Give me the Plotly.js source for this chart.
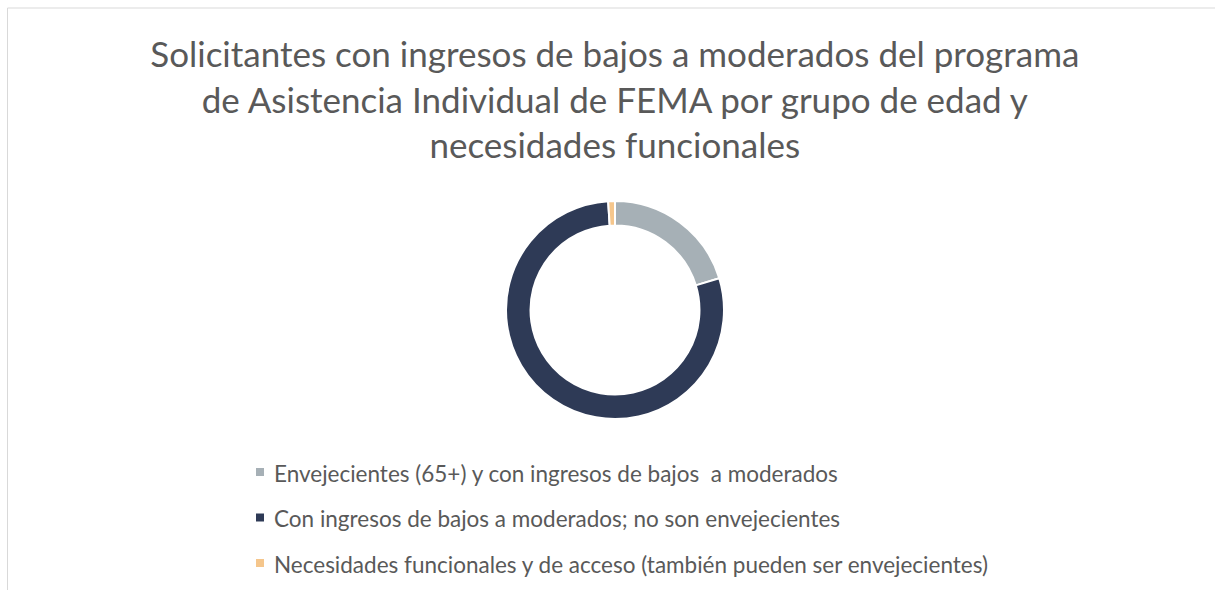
<!DOCTYPE html>
<html>
<head>
<meta charset="utf-8">
<script src="https://cdn.plot.ly/plotly-3.0.1.min.js"></script>
<style>
  html, body { margin: 0; padding: 0; background: #ffffff; }
  #chart { width: 1215px; height: 590px; }
</style>
</head>
<body>
<div id="chart"></div>
<script>
// ---- Data ----
const labels = [
  "Envejecientes (65+) y con ingresos de bajos\u00a0\u00a0a moderados",
  "Con ingresos de bajos a moderados; no son envejecientes",
  "Necesidades funcionales y de acceso (también pueden ser envejecientes)"
];
const values = [20.3, 78.7, 1.0];
const colors = ["#a6b0b6", "#2e3a56", "#f5c68c"];
const titleText = "Solicitantes con ingresos de bajos a moderados del programa<br>de Asistencia Individual de FEMA por grupo de edad y<br>necesidades funcionales";

// ---- Layout helpers (pixel -> paper) ----
const W = 1215, H = 590;
const px = x => x / W;
const py = y => 1 - y / H;

const FONT = "Lato, 'Open Sans', sans-serif";
const TEXT_COLOR = "#595959";

const trace = {
  type: "pie",
  labels: labels,
  values: values,
  hole: 0.775,
  sort: false,
  direction: "clockwise",
  rotation: 0,
  textinfo: "none",
  hoverinfo: "label+percent",
  marker: { colors: colors, line: { color: "#ffffff", width: 2 } },
  domain: { x: [px(506), px(724)], y: [py(419.5), py(200.5)] },
  showlegend: false
};

// Manual legend (Plotly legend cannot reproduce the wide row spacing)
const legendTop = 472, legendStep = 45.5, sq = 8, sqX = 256, textX = 272;
const shapes = [
  // chart frame (left and top edges visible)
  { type: "line", xref: "paper", yref: "paper", x0: px(7.5), x1: px(7.5), y0: py(8), y1: 0,
    line: { color: "#d9d9d9", width: 1 } },
  { type: "line", xref: "paper", yref: "paper", x0: px(7.5), x1: 1, y0: py(8), y1: py(8),
    line: { color: "#d9d9d9", width: 1 } }
];
const annotations = [];
labels.forEach((lab, i) => {
  const cy = legendTop + i * legendStep;
  shapes.push({
    type: "rect", xref: "paper", yref: "paper",
    x0: px(sqX), x1: px(sqX + sq), y0: py(cy - sq / 2), y1: py(cy + sq / 2),
    fillcolor: colors[i], line: { width: 0 }
  });
  annotations.push({
    xref: "paper", yref: "paper", x: px(textX), y: py(cy + 1),
    xanchor: "left", yanchor: "middle", showarrow: false,
    text: lab, font: { family: FONT, size: 22.5, color: TEXT_COLOR }
  });
});

const layout = {
  width: W, height: H,
  margin: { l: 0, r: 0, t: 0, b: 0 },
  paper_bgcolor: "#ffffff",
  plot_bgcolor: "#ffffff",
  title: {
    text: titleText,
    font: { family: FONT, size: 35, color: TEXT_COLOR },
    x: 0.506, xanchor: "center",
    y: py(67), yref: "container", yanchor: "top"
  },
  shapes: shapes,
  annotations: annotations
};

Plotly.newPlot("chart", [trace], layout, { displayModeBar: false, staticPlot: true });
</script>
</body>
</html>
